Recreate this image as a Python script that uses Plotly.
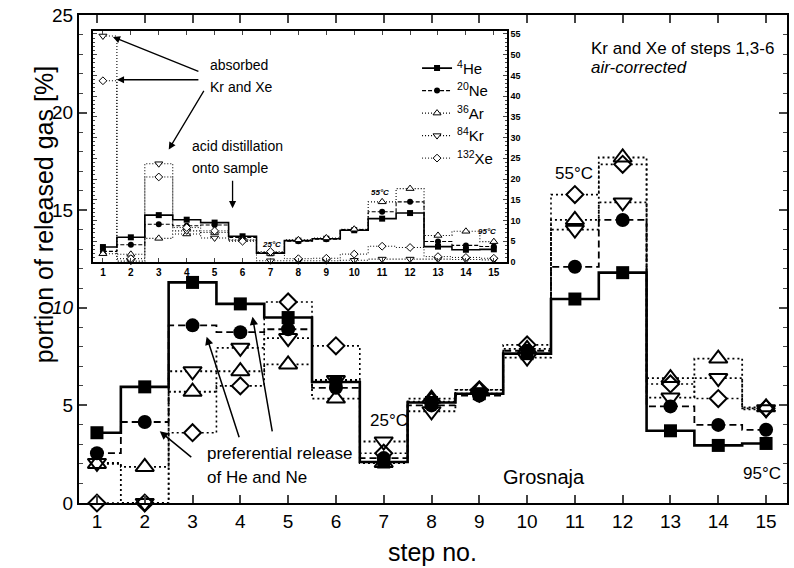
import plotly.graph_objects as go

# ---------------- data ----------------
steps = list(range(1, 16))
he = [3.6, 5.95, 11.3, 10.2, 9.5, 6.2, 2.1, 5.15, 5.6, 7.65, 10.45, 11.8, 3.7, 2.95, 3.05]
ne = [2.55, 4.15, 9.1, 8.75, 8.9, 5.9, 2.3, 5.0, 5.5, 7.8, 12.1, 14.5, 4.95, 4.0, 3.75]
ar = [2.0, 1.85, 5.7, 6.75, 7.1, 5.35, 2.05, 5.35, 5.8, 7.9, 14.5, 17.7, 6.4, 7.4, 4.9]
kr = [2.05, 0.0, 6.75, 7.95, 8.45, 6.3, 3.15, 4.7, 5.6, 7.45, 14.0, 15.4, 5.4, 6.4, 4.8]
xe = [0.0, 0.0, 3.6, 6.0, 10.3, 8.05, 2.55, 5.2, 5.8, 8.1, 15.8, 17.35, 6.1, 5.35, 4.85]

# inset (not air-corrected Kr and Xe)
inset_kr = [54.5, 0.2, 23.7, 7.5, 5.8, 5.2, 0.3, 0.3, 0.3, 0.4, 0.7, 0.7, 0.7, 0.6, 0.5]
inset_xe = [43.7, 0.8, 20.5, 8.3, 7.5, 5.0, 2.5, 0.8, 0.9, 1.9, 3.8, 3.5, 1.3, 1.1, 0.9]

series_names = ["<sup>4</sup>He", "<sup>20</sup>Ne", "<sup>36</sup>Ar", "<sup>84</sup>Kr", "<sup>132</sup>Xe"]
x_ticks = steps
y_ticks = [0, 5, 10, 15, 20, 25]
y_ticktext = ["0", "5", "<i>10</i>", "15", "20", "25"]
inset_y_ticks = list(range(0, 60, 5))

# ---------------- layout helpers ----------------
FONT = "Liberation Sans, Arial, sans-serif"
W, H = 794, 568
ML, MR, MT, MB = 79, 5, 13, 65
PW = W - ML - MR
PH = H - MT - MB


def paper(xp, yp):
    return (xp - ML) / PW, (H - MB - yp) / PH


fig = go.Figure()

# ---------------- main chart ----------------
line_styles = {
    "he": dict(color="black", width=2.6, dash="solid"),
    "ne": dict(color="black", width=1.8, dash="7px,4px"),
    "ar": dict(color="black", width=1.8, dash="2px,3px"),
    "kr": dict(color="black", width=1.8, dash="2px,3px"),
    "xe": dict(color="black", width=1.6, dash="2px,3px"),
}
vals = {"he": he, "ne": ne, "ar": ar, "kr": kr, "xe": xe}

for key in ["xe", "kr", "ar", "ne", "he"]:
    fig.add_trace(go.Scatter(x=steps, y=vals[key], mode="lines", line_shape="hvh",
                             line=line_styles[key], showlegend=False, hoverinfo="skip",
                             cliponaxis=False))

open_syms = [("xe", "diamond", 13), ("kr", "triangle-down", 16), ("ar", "triangle-up", 16)]
for key, sym, sz in open_syms:
    fig.add_trace(go.Scatter(x=steps, y=vals[key], mode="markers",
                             marker=dict(symbol=sym, size=sz, color="white", line=dict(width=0)),
                             showlegend=False, hoverinfo="skip", cliponaxis=False))
for key, sym, sz in open_syms:
    fig.add_trace(go.Scatter(x=steps, y=vals[key], mode="markers",
                             marker=dict(symbol=sym + "-open", size=sz, color="black",
                                         line=dict(width=2, color="black")),
                             showlegend=False, hoverinfo="skip", cliponaxis=False))
fig.add_trace(go.Scatter(x=steps, y=ne, mode="markers",
                         marker=dict(symbol="circle", size=14, color="black"),
                         showlegend=False, hoverinfo="skip", cliponaxis=False))
fig.add_trace(go.Scatter(x=steps, y=he, mode="markers",
                         marker=dict(symbol="square", size=13, color="black"),
                         showlegend=False, hoverinfo="skip", cliponaxis=False))

# ---------------- inset ----------------
inset_vals = [he, ne, ar, inset_kr, inset_xe]
inset_styles = [
    (dict(color="black", width=1.6, dash="solid"), dict(symbol="square", size=6, color="black")),
    (dict(color="black", width=1.1, dash="4px,2px"), dict(symbol="circle", size=6, color="black")),
    (dict(color="black", width=1.1, dash="1px,2px"),
     dict(symbol="triangle-up", size=7, color="white", line=dict(width=1, color="black"))),
    (dict(color="black", width=1.1, dash="1px,2px"),
     dict(symbol="triangle-down", size=7, color="white", line=dict(width=1, color="black"))),
    (dict(color="black", width=1.0, dash="1px,2px"),
     dict(symbol="diamond", size=6, color="white", line=dict(width=1, color="black"))),
]
for name, v, (ls, mk) in zip(series_names, inset_vals, inset_styles):
    fig.add_trace(go.Scatter(x=steps, y=v, mode="lines+markers", line_shape="hvh",
                             line=ls, marker=mk, name=name, xaxis="x2", yaxis="y2",
                             hoverinfo="skip", cliponaxis=False))

# ---------------- axes ----------------
x0 = 1 - 18 / 47.93
x1 = 15 + 21 / 47.93
fig.update_layout(
    width=W, height=H,
    margin=dict(l=ML, r=MR, t=MT, b=MB),
    paper_bgcolor="white", plot_bgcolor="white",
    font=dict(family=FONT, color="black"),
    xaxis=dict(range=[x0, x1], domain=[0, 1], tickvals=x_ticks, ticks="inside", ticklen=8,
               tickwidth=1.5, showline=True, linewidth=2, linecolor="black", mirror="ticks",
               showgrid=False, zeroline=False, tickfont=dict(size=19, family=FONT)),
    yaxis=dict(range=[0, 25], domain=[0, 1], tickvals=y_ticks, ticktext=y_ticktext,
               ticks="inside", ticklen=8, tickwidth=1.5, showline=True, linewidth=2,
               linecolor="black", mirror="ticks", showgrid=False, zeroline=False,
               tickfont=dict(size=19, family=FONT),
               minor=dict(dtick=1, ticks="inside", ticklen=4, tickwidth=1, showgrid=False)),
    xaxis2=dict(domain=list((paper(93, 0)[0], paper(508, 0)[0])),
                range=[1 - 10 / 28, 15 + 13 / 28], anchor="y2", tickvals=x_ticks,
                ticks="inside", ticklen=4, tickwidth=1.2, showline=True, linewidth=1.8,
                linecolor="black", mirror="ticks", showgrid=False, zeroline=False,
                tickfont=dict(size=10, family=FONT, weight="bold")),
    yaxis2=dict(domain=[paper(0, 261)[1], paper(0, 29)[1]],
                range=[0, (261 - 29) / 4.164], anchor="x2", side="right",
                tickvals=inset_y_ticks, ticks="inside", ticklen=4, tickwidth=1.2,
                showline=True, linewidth=1.8, linecolor="black", mirror="ticks",
                showgrid=False, zeroline=False,
                tickfont=dict(size=9, family=FONT, weight="bold"),
                minor=dict(dtick=1, ticks="inside", ticklen=2, tickwidth=0.8, showgrid=False)),
    legend=dict(x=paper(418, 0)[0], y=paper(0, 50)[1], xanchor="left", yanchor="top",
                bgcolor="rgba(0,0,0,0)", font=dict(size=15, family=FONT),
                itemwidth=30, tracegroupgap=0),
)

# ---------------- annotations ----------------
ann = []


def text(xp, yp, t, size, xanchor="center", italic=False, bold=False):
    xa, ya = paper(xp, yp)
    if italic:
        t = "<i>" + t + "</i>"
    if bold:
        t = "<b>" + t + "</b>"
    ann.append(dict(x=xa, y=ya, xref="paper", yref="paper", text=t, showarrow=False,
                    xanchor=xanchor, yanchor="middle", font=dict(size=size, family=FONT)))


def arrow(tail, head, width=1.5):
    xa, ya = paper(*head)
    ann.append(dict(x=xa, y=ya, xref="paper", yref="paper", text="", showarrow=True,
                    ax=tail[0] - head[0], ay=tail[1] - head[1], axref="pixel", ayref="pixel",
                    arrowhead=2, arrowsize=1.1, arrowwidth=width, arrowcolor="black"))


# axis titles
ann.append(dict(x=paper(28, 0)[0], y=paper(0, 214)[1], xref="paper", yref="paper",
                text="portion of released gas [%]", textangle=-90, showarrow=False,
                font=dict(size=25, family=FONT)))
text(433, 552, "step no.", 25)

# main annotations
text(590, 47, "Kr and Xe of steps 1,3-6", 17, xanchor="left")
text(590, 66, "air-corrected", 17, xanchor="left", italic=True)
text(575, 172, "55°C", 17)
text(390, 420, "25°C", 17)
text(764, 473, "95°C", 17)
text(545, 477, "Grosnaja", 20)
text(205, 453, "preferential release", 17, xanchor="left")
text(205, 477, "of He and Ne", 17, xanchor="left")
arrow((193, 458), (160, 431))
arrow((240, 438), (207, 336))
arrow((273, 432), (253, 316))

# inset annotations
text(208, 63, "absorbed", 14, xanchor="left")
text(208, 85, "Kr and Xe", 14, xanchor="left")
arrow((200, 70), (113, 35), 1.3)
arrow((200, 78), (117, 78), 1.3)
arrow((205, 88), (169, 148), 1.3)
text(190, 145, "acid distillation", 14, xanchor="left")
text(190, 167, "onto sample", 14, xanchor="left")
arrow((233, 178), (233, 207), 1.3)
text(272, 243, "25°C", 8, bold=True, italic=True)
text(381, 191, "55°C", 8, bold=True, italic=True)
text(488, 230, "95°C", 8, bold=True, italic=True)

fig.update_layout(annotations=ann)

fig.write_html("out.html")
